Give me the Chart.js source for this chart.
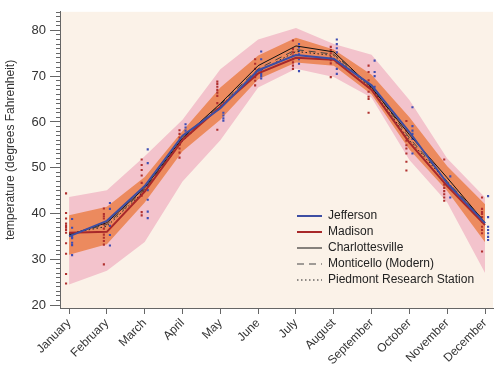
<!DOCTYPE html>
<html><head><meta charset="utf-8">
<script src="https://cdn.jsdelivr.net/npm/chart.js@4/dist/chart.umd.min.js"></script>
<style>html,body{margin:0;padding:0;background:#fff}canvas{display:block}</style>
</head><body>
<canvas id="c" width="500" height="370"></canvas>
<script>
const months = ['January','February','March','April','May','June','July','August','September','October','November','December'];

// Station mean lines
const jefferson       = [35.0, 38.4, 46.0, 57.0, 63.0, 71.3, 74.6, 73.8, 68.0, 57.8, 46.6, 37.9];
const madison         = [35.8, 36.0, 44.8, 56.0, 63.3, 70.6, 74.0, 73.6, 67.0, 55.5, 46.0, 37.5];
const charlottesville = [35.3, 38.0, 45.6, 56.5, 64.0, 72.3, 76.6, 75.3, 67.5, 57.2, 47.8, 38.0];
const monticello      = [35.5, 37.6, 45.3, 56.2, 63.8, 71.6, 75.8, 74.8, 67.8, 56.5, 47.0, 38.2];
const piedmont        = [35.6, 37.2, 45.0, 55.8, 63.5, 71.0, 75.4, 74.5, 67.3, 56.0, 46.8, 38.0];

// Range bands
const outerHigh = [43.6, 45.1, 52.5, 60.5, 71.5, 78.0, 80.5, 77.0, 74.7, 64.8, 52.0, 43.5];
const outerLow  = [24.5, 27.5, 33.8, 47.0, 56.0, 67.5, 71.6, 69.8, 65.3, 51.7, 42.4, 27.0];
const innerHigh = [39.6, 41.5, 48.0, 58.0, 67.5, 74.5, 78.4, 75.8, 70.3, 61.0, 50.3, 42.0];
const innerLow  = [31.0, 33.3, 42.4, 53.6, 60.5, 69.3, 73.0, 72.3, 66.0, 54.0, 44.9, 33.7];

// Individual observations (per month)
const madisonObs = [
  [44.4, 40.1, 38.9, 37.8, 37.3, 36.9, 36.4, 35.8, 33.5, 31.2, 26.8, 24.7],
  [41.1, 39.9, 39.4, 38.9, 37.6, 36.7, 35.4, 34.7, 34.0, 33.2, 28.9],
  [51.8, 50.6, 49.5, 48.3, 46.7, 45.1, 43.9, 40.3, 39.6],
  [58.2, 57.4, 56.6, 55.8, 55.0, 54.2, 53.3, 52.2],
  [68.8, 68.3, 67.7, 67.0, 66.4, 65.7, 64.1, 62.7, 58.3],
  [73.7, 72.7, 71.6, 70.5, 69.8, 69.0, 68.0],
  [77.8, 75.9, 75.2, 74.5, 73.7, 73.0, 72.3, 71.6],
  [76.4, 75.7, 75.0, 74.2, 73.5, 72.8, 69.8],
  [72.3, 70.9, 69.1, 67.7, 66.6, 65.5, 65.0, 62.0],
  [60.2, 58.1, 55.9, 54.9, 54.2, 53.1, 51.3, 49.4],
  [51.8, 46.3, 45.6, 44.9, 44.2, 43.5, 42.8],
  [43.5, 41.0, 40.3, 39.9, 39.2, 38.2, 37.1, 36.4, 35.7, 31.7]
];
const jeffersonObs = [
  [38.8, 36.9, 34.9, 34.6, 33.6, 33.1, 30.9],
  [42.3, 41.0, 38.7, 37.3, 35.3, 33.0],
  [54.0, 51.0, 46.0, 45.1, 43.0, 40.4, 39.0],
  [59.5, 58.8, 58.1, 57.4],
  [62.0, 61.4, 60.8, 60.3],
  [75.4, 73.7, 71.2, 70.5, 70.0, 69.5],
  [77.0, 76.3, 75.5, 74.8, 73.7, 72.7, 71.1],
  [78.0, 77.0, 76.1, 75.2, 73.0, 71.6, 70.5],
  [73.4, 70.9, 70.0, 67.7, 67.0],
  [63.2, 59.1, 58.1, 57.4, 56.3, 53.1],
  [48.1, 46.0, 43.5],
  [43.8, 39.2, 37.1, 36.4, 35.7, 34.9, 34.2]
];

const yMajorTicks = [20, 30, 40, 50, 60, 70, 80];
const yMinorTicks = [];
for (let v = 20; v <= 84; v++) yMinorTicks.push(v);

const FONT = "'Liberation Sans', Arial, Helvetica, sans-serif";
const PINK = '#F3C3CC', ORANGE = '#EC8A5E', BG = '#FBF2E8';
const AXIS = '#666';

const pts = arr => arr.map((v, i) => ({x: i, y: v}));
const obsPts = (obs, dx) => obs.flatMap((vals, i) => vals.map(v => ({x: i + dx, y: v})));

const lineSeries = [
  {label: 'Jefferson', data: jefferson, color: '#3D4EA3', width: 2, dash: [], order: 1},
  {label: 'Madison', data: madison, color: '#A8282A', width: 2, dash: [], order: 2},
  {label: 'Charlottesville', data: charlottesville, color: '#111', width: 1, dash: [], order: 3},
  {label: 'Monticello (Modern)', data: monticello, color: '#444', width: 1, dash: [7, 5], order: 4},
  {label: 'Piedmont Research Station', data: piedmont, color: '#222', width: 1, dash: [1.5, 2.5], order: 5}
];

const bandBase = {borderWidth: 0, pointRadius: 0, tension: 0};
const datasets = [
  {...bandBase, data: pts(outerHigh), fill: '+1', backgroundColor: PINK, order: 20},
  {...bandBase, data: pts(outerLow), fill: false, order: 20},
  {...bandBase, data: pts(innerHigh), fill: '+1', backgroundColor: ORANGE, order: 19},
  {...bandBase, data: pts(innerLow), fill: false, order: 19},
  {type: 'scatter', data: obsPts(madisonObs, -0.08), pointStyle: 'rect', pointRadius: 1.5, backgroundColor: '#B0302E', borderWidth: 0, order: 10},
  {type: 'scatter', data: obsPts(jeffersonObs, 0.08), pointStyle: 'rect', pointRadius: 1.5, backgroundColor: '#3E4DB3', borderWidth: 0, order: 10}
];
lineSeries.forEach(s => {
  s.index = datasets.length;
  datasets.push({label: s.label, data: pts(s.data), borderColor: s.color, borderWidth: s.width,
    borderDash: s.dash, pointRadius: 0, fill: false, tension: 0, order: s.order});
});

const plotBg = {
  id: 'plotBg',
  beforeDraw(chart) {
    const {ctx, chartArea: a} = chart;
    ctx.save();
    ctx.fillStyle = BG;
    ctx.fillRect(a.left, a.top, a.right - a.left, a.bottom - a.top);
    ctx.restore();
  }
};
const legendPlace = {
  id: 'legendPlace',
  afterLayout(chart) {
    const lg = chart.legend;
    if (!lg) return;
    const a = chart.chartArea;
    const pad = lg.options.labels.padding;
    const h = (lg.columnSizes && lg.columnSizes[0] ? lg.columnSizes[0].height : 80) + pad + 4;
    const w = lg.width + 10;
    lg.left = a.right - 200; lg.right = lg.left + w;
    lg.top = a.bottom - 102; lg.bottom = lg.top + h;
  }
};

new Chart(document.getElementById('c'), {
  type: 'line',
  data: {datasets},
  plugins: [plotBg, legendPlace],
  options: {
    responsive: false,
    animation: false,
    events: [],
    layout: {padding: {top: 5, right: 7, left: 0, bottom: 0}},
    plugins: {
      tooltip: {enabled: false},
      legend: {
        display: true,
        position: 'chartArea',
        align: 'start',
        labels: {
          usePointStyle: true,
          pointStyleWidth: 25,
          padding: 4,
          color: '#222',
          font: {family: FONT, size: 12},
          generateLabels: () => lineSeries.map(s => ({
            text: s.label, strokeStyle: s.color, fillStyle: s.color, lineWidth: s.width,
            lineDash: s.dash, pointStyle: 'line', hidden: false, datasetIndex: s.index, fontColor: '#222'
          }))
        }
      }
    },
    scales: {
      x: {
        type: 'linear', position: 'bottom', min: -0.24, max: 11.21,
        afterBuildTicks: s => { s.ticks = months.map((m, i) => ({value: i})); },
        afterFit: s => { s.height = 62; },
        grid: {drawOnChartArea: false, drawTicks: true, tickLength: 6, color: AXIS},
        border: {display: true, color: AXIS, width: 1},
        ticks: {autoSkip: false, minRotation: 45, maxRotation: 45, padding: 2, color: '#333',
          font: {family: FONT, size: 12}, callback: v => months[v]}
      },
      y: {
        type: 'linear', position: 'left', weight: 1, min: 19.36, max: 84.06,
        afterBuildTicks: s => { s.ticks = yMajorTicks.map(v => ({value: v})); },
        afterFit: s => { s.width = 60; },
        grid: {drawOnChartArea: false, drawTicks: true, tickLength: 10, color: AXIS},
        border: {display: true, color: AXIS, width: 1},
        ticks: {padding: 4, color: '#333', font: {family: FONT, size: 13}},
        title: {display: true, text: '      temperature (degrees Fahrenheit)', color: '#333',
          font: {family: FONT, size: 12}, padding: {top: 3, bottom: 0}}
      },
      yMinor: {
        type: 'linear', axis: 'y', position: 'left', weight: 0, min: 19.36, max: 84.06,
        afterBuildTicks: s => { s.ticks = yMinorTicks.map(v => ({value: v})); },
        afterFit: s => { s.width = 0; },
        grid: {drawOnChartArea: false, drawTicks: true, tickLength: 4, color: AXIS},
        border: {display: false},
        ticks: {display: false, autoSkip: false}
      }
    }
  }
});
</script>
</body></html>
